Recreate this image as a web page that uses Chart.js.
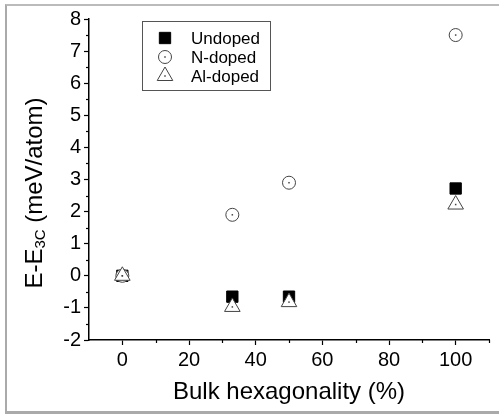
<!DOCTYPE html>
<html>
<head>
<meta charset="utf-8">
<script src="https://cdn.jsdelivr.net/npm/chart.js@4/dist/chart.umd.min.js"></script>
<style>
  html, body { margin: 0; padding: 0; background: #fff; }
  #wrap { position: relative; width: 499px; height: 414px; overflow: hidden; }
  #frame { position: absolute; left: 5px; top: 4px; width: 500px; height: 405px;
           border-left: 2px solid #aaa; border-top: 2px solid #bbb; border-bottom: 3px solid #aaa; }
  canvas { position: absolute; left: 0; top: 0; }
</style>
</head>
<body>
<div id="wrap">
  <div id="frame"></div>
  <canvas id="hexChart" width="499" height="414"></canvas>
</div>
<script>
// values
const hexagonality = [0, 33, 50, 100];
const undoped = [0, -0.65, -0.65, 2.72];
const nDoped = [0, 1.9, 2.9, 7.5];
const alDoped = [0, -0.97, -0.82, 2.22];
const seriesNames = ['Undoped', 'N-doped', 'Al-doped'];
const xTicks = [0, 20, 40, 60, 80, 100];
const xMinor = [10, 30, 50, 70, 90, 110];
const yMinor = [-1.5, -0.5, 0.5, 1.5, 2.5, 3.5, 4.5, 5.5, 6.5, 7.5];

const FONT = "'Liberation Sans', Arial, sans-serif";

function toPoints(ys) {
  return hexagonality.map((x, i) => ({ x: x, y: ys[i] }));
}

// same shapes as the chart markers, for the legend box
function drawMarker(ctx, style, x, y, r, fill, stroke) {
  ctx.save();
  ctx.fillStyle = fill;
  ctx.strokeStyle = stroke;
  ctx.lineWidth = 1;
  ctx.beginPath();
  if (style === 'rect') {
    const s = Math.SQRT1_2 * r;
    ctx.rect(x - s, y - s, 2 * s, 2 * s);
  } else if (style === 'circle') {
    ctx.arc(x, y, r, 0, Math.PI * 2);
  } else {
    let a = 0;
    ctx.moveTo(x + Math.sin(a) * r, y - Math.cos(a) * r);
    a += Math.PI * 2 / 3;
    ctx.lineTo(x + Math.sin(a) * r, y - Math.cos(a) * r);
    a += Math.PI * 2 / 3;
    ctx.lineTo(x + Math.sin(a) * r, y - Math.cos(a) * r);
    ctx.closePath();
  }
  ctx.fill();
  ctx.stroke();
  if (style !== 'rect') {
    ctx.fillStyle = '#444';
    ctx.fillRect(x - 0.75, y - 0.75, 1.5, 1.5);
  }
  ctx.restore();
}

const extras = {
  id: 'extras',
  afterDatasetsDraw(chart) {
    const ctx = chart.ctx;
    // little dots in the middle of the open markers
    [1, 2].forEach(di => {
      chart.getDatasetMeta(di).data.forEach(pt => {
        ctx.fillStyle = '#444';
        ctx.fillRect(pt.x - 0.75, pt.y - 0.75, 1.5, 1.5);
      });
    });
  },
  afterDraw(chart) {
    const ctx = chart.ctx;
    const xs = chart.scales.x, ys = chart.scales.y;
    ctx.save();
    ctx.strokeStyle = '#000';
    ctx.lineWidth = 1.2;
    // minor ticks
    xMinor.forEach(v => {
      const px = Math.round(xs.getPixelForValue(v)) + 0.5;
      ctx.beginPath();
      ctx.moveTo(px, xs.top);
      ctx.lineTo(px, xs.top + 3);
      ctx.stroke();
    });
    yMinor.forEach(v => {
      const py = Math.round(ys.getPixelForValue(v)) + 0.5;
      ctx.beginPath();
      ctx.moveTo(ys.right, py);
      ctx.lineTo(ys.right - 3, py);
      ctx.stroke();
    });

    // y title with subscript
    const big = '24px ' + FONT, small = '15px ' + FONT;
    const parts = [['E-E', big, 0], ['3C', small, 6], [' (meV/atom)', big, 0]];
    let total = 0;
    parts.forEach(p => { ctx.font = p[1]; total += ctx.measureText(p[0]).width; });
    ctx.translate(35, 193);
    ctx.rotate(-Math.PI / 2);
    ctx.fillStyle = '#000';
    ctx.textBaseline = 'middle';
    ctx.textAlign = 'left';
    let cx = -total / 2;
    parts.forEach(p => {
      ctx.font = p[1];
      ctx.fillText(p[0], cx, p[2]);
      cx += ctx.measureText(p[0]).width;
    });
    ctx.restore();

    // legend box
    ctx.save();
    ctx.strokeStyle = '#555';
    ctx.lineWidth = 1;
    ctx.strokeRect(142.5, 21.5, 128, 69);
    chart.data.datasets.forEach((d, i) => {
      const y = 38 + i * 19;
      drawMarker(ctx, d.pointStyle, 165, y, d.pointRadius, d.backgroundColor, d.borderColor);
      ctx.font = '17px ' + FONT;
      ctx.fillStyle = '#000';
      ctx.textBaseline = 'middle';
      ctx.fillText(d.label, 191, y + 1);
    });
    ctx.restore();
  }
};

new Chart(document.getElementById('hexChart').getContext('2d'), {
  type: 'scatter',
  data: {
    datasets: [{
      label: seriesNames[0],
      data: toPoints(undoped),
      pointStyle: 'rect',
      pointRadius: 8,
      backgroundColor: '#000',
      borderColor: '#000',
      borderWidth: 1,
      order: 3
    }, {
      label: seriesNames[1],
      data: toPoints(nDoped),
      pointStyle: 'circle',
      pointRadius: 6.5,
      backgroundColor: '#fff',
      borderColor: '#444',
      borderWidth: 1,
      order: 2
    }, {
      label: seriesNames[2],
      data: toPoints(alDoped),
      pointStyle: 'triangle',
      pointRadius: 9,
      backgroundColor: '#fff',
      borderColor: '#444',
      borderWidth: 1,
      order: 1
    }]
  },
  options: {
    responsive: false,
    animation: false,
    layout: { padding: { left: 0, right: 8, top: 19, bottom: 0 } },
    plugins: { legend: { display: false }, tooltip: { enabled: false } },
    elements: { point: { hoverRadius: 8 } },
    scales: {
      x: {
        type: 'linear',
        min: -10,
        max: 110,
        afterBuildTicks: s => { s.ticks = xTicks.map(v => ({ value: v })); },
        afterFit: s => { s.height = 74; },
        grid: { drawOnChartArea: false, tickLength: 5, color: '#000', tickWidth: 1.2 },
        border: { display: true, color: '#000', width: 1.5 },
        ticks: { color: '#000', font: { family: FONT, size: 20 }, padding: 3, maxRotation: 0 },
        title: { display: true, text: 'Bulk hexagonality (%)', color: '#000',
                 font: { family: FONT, size: 24 }, padding: { top: 2, bottom: 7 } }
      },
      y: {
        min: -2,
        max: 8,
        afterFit: s => { s.width = 89; },
        grid: { drawOnChartArea: false, tickLength: 5, color: '#000', tickWidth: 1.2 },
        border: { display: true, color: '#000', width: 1.5 },
        ticks: { stepSize: 1, color: '#000', font: { family: FONT, size: 20 }, padding: 3 }
      }
    }
  },
  plugins: [extras]
});
</script>
</body>
</html>
